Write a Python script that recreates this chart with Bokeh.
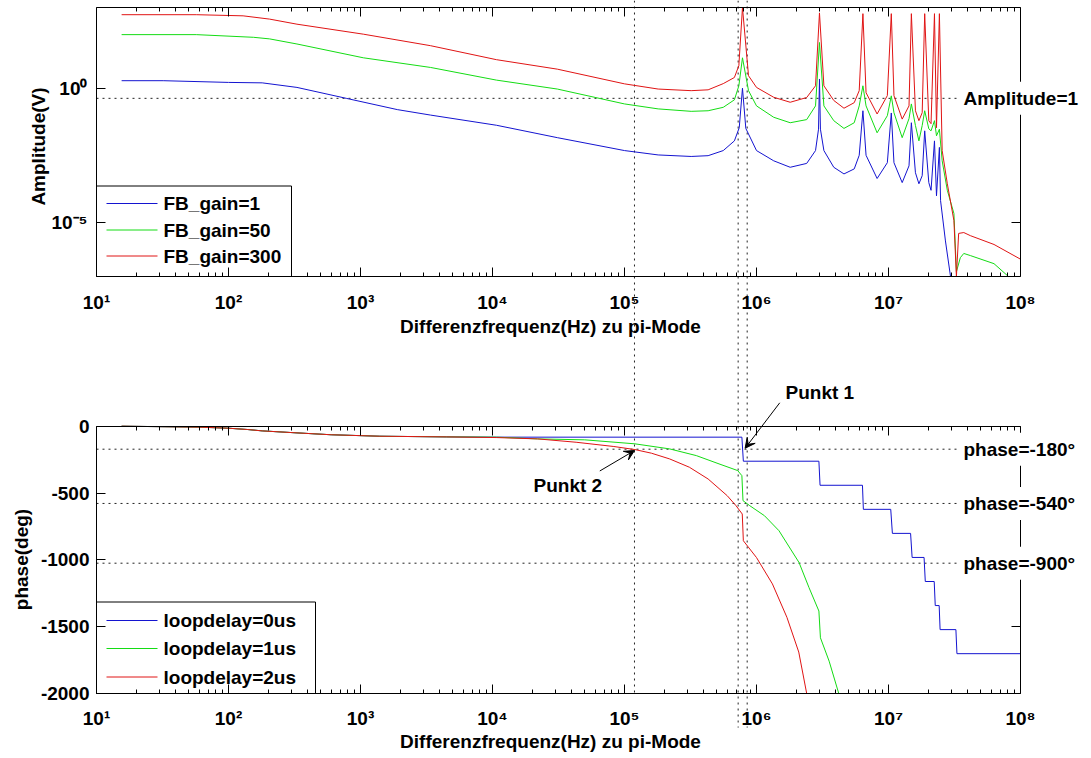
from bokeh.plotting import figure
from bokeh.models import (Label, Arrow, VeeHead, FixedTicker, LogAxis, LinearAxis, Range1d, LinearScale)
from bokeh.embed import file_html
from bokeh.resources import INLINE

FONT = "Liberation Sans"

# ---------------- amplitude data (Hz, V) ----------------
freq_amp_gain1 = [15.5, 32, 100, 180, 330, 780, 1.9e3, 3.4e3, 1.07e4, 3.1e4, 1.0e5, 1.8e5, 3.2e5, 4.3e5,
                  5.6e5, 6.8e5, 7.4e5, 7.83e5, 8.3e5, 1.0e6, 1.35e6, 1.8e6, 2.4e6, 2.8e6, 2.95e6, 3.0e6,
                  3.05e6, 3.24e6, 3.85e6, 4.6e6, 5.5e6, 6.0e6, 6.4e6, 6.76e6, 8.2e6, 9.8e6, 1.05e7, 1.1e7,
                  1.27e7, 1.43e7, 1.49e7, 1.6e7, 1.7e7, 1.8e7, 1.88e7, 2.02e7, 2.1e7, 2.23e7, 2.31e7,
                  2.43e7, 2.48e7, 2.7e7, 2.95e7]
amp_gain1 = [1.9, 1.9, 1.64, 1.58, 1.07, 0.42, 0.16, 0.10, 0.042, 0.0145, 4.8e-3, 3.3e-3, 2.9e-3, 3.1e-3,
             4.8e-3, 0.011, 0.034, 1.0, 0.032, 4.8e-3, 2.0e-3, 1.15e-3, 1.6e-3, 4.8e-3, 0.03, 2.2,
             0.03, 4.8e-3, 1.15e-3, 6.5e-4, 1.0e-3, 3.2e-3, 0.145, 3.2e-3, 4.4e-4, 1.7e-3, 0.12, 1.7e-3,
             3.1e-4, 1.3e-3, 0.052, 7.2e-4, 2.8e-4, 5.6e-4, 0.026, 3.1e-4, 1.6e-4, 0.011, 1.0e-4,
             6.3e-3, 6.6e-5, 2.1e-6, 1.0e-7]

freq_amp_gain50 = [15.5, 57, 155, 205, 330, 1.05e3, 3.4e3, 1.07e4, 3.1e4, 1.0e5, 1.8e5, 3.2e5, 4.3e5,
                   5.6e5, 6.8e5, 7.35e5, 7.83e5, 8.7e5, 1.0e6, 1.35e6, 1.8e6, 2.4e6, 2.8e6, 3.0e6,
                   3.24e6, 3.85e6, 4.6e6, 5.5e6, 6.0e6, 6.4e6, 6.76e6, 8.2e6, 9.8e6, 1.05e7, 1.1e7,
                   1.27e7, 1.43e7, 1.49e7, 1.6e7, 1.7e7, 1.8e7, 1.88e7, 2.02e7, 2.1e7, 2.23e7, 2.31e7,
                   2.43e7, 2.55e7, 2.79e7, 3.13e7, 3.27e7, 3.5e7, 3.72e7, 4.17e7, 6.3e7, 8.1e7]
amp_gain50 = [98, 98, 78, 68, 44, 13.5, 5.9, 2.0, 0.93, 0.26, 0.17, 0.138, 0.145, 0.195, 0.37, 1.23,
              13.5, 0.81, 0.22, 0.083, 0.052, 0.068, 0.22, 50, 0.22, 0.062, 0.032, 0.052, 0.22, 1.23,
              0.22, 0.022, 0.095, 0.52, 0.123, 0.0145, 0.074, 0.26, 0.041, 0.011, 0.041, 0.145, 0.031,
              0.026, 0.062, 0.017, 0.03, 2.0e-3, 1.6e-4, 2.2e-5, 1.5e-7, 5.0e-7, 7.2e-7, 6.0e-7, 3.0e-7,
              1.0e-7]

freq_amp_gain300 = [15.5, 57, 129, 205, 330, 1.05e3, 3.4e3, 1.07e4, 3.1e4, 1.0e5, 1.8e5, 3.2e5, 4.3e5,
                    5.6e5, 6.8e5, 7.35e5, 7.83e5, 8.7e5, 1.0e6, 1.35e6, 1.8e6, 2.4e6, 2.8e6, 3.0e6,
                    3.24e6, 3.85e6, 4.6e6, 5.5e6, 6.0e6, 6.4e6, 6.76e6, 8.2e6, 9.8e6, 1.05e7, 1.1e7,
                    1.27e7, 1.43e7, 1.49e7, 1.6e7, 1.7e7, 1.8e7, 1.88e7, 2.02e7, 2.1e7, 2.23e7, 2.31e7,
                    2.43e7, 2.55e7, 2.79e7, 3.13e7, 3.27e7, 3.4e7, 3.72e7, 4.17e7, 6.3e7, 1.0e8]
amp_gain300 = [540, 540, 490, 370, 240, 102, 38, 11.5, 5.1, 1.45, 0.93, 0.81, 0.87, 1.48, 2.5, 6.9,
               1000, 2.9, 1.07, 0.46, 0.30, 0.45, 1.23, 630, 1.23, 0.35, 0.18, 0.29, 0.81, 590, 0.68,
               0.11, 0.53, 590, 0.53, 0.071, 0.22, 590, 0.145, 0.062, 0.123, 590, 0.062, 0.048, 590,
               0.034, 590, 4.8e-3, 2.8e-4, 1.2e-5, 1.0e-7, 4.0e-6, 4.3e-6, 3.3e-6, 1.55e-6, 4.4e-7]

# ---------------- phase data (Hz, deg) ----------------
freq_ph_0us = [15.5, 60, 100, 140, 180, 330, 600, 1.4e3, 4.5e3, 1.07e4, 7.75e5, 7.95e5, 2.97e6, 3.03e6,
               6.35e6, 6.45e6, 1.04e7, 1.07e7, 1.47e7, 1.51e7, 1.86e7, 1.9e7, 2.22e7, 2.26e7, 2.42e7,
               2.46e7, 3.24e7, 3.3e7, 1.0e8]
phase_0us = [0, -7, -15, -25, -35, -50, -64, -75, -80, -82, -82, -262, -262, -442, -442, -622, -622,
             -802, -802, -982, -982, -1162, -1162, -1342, -1342, -1522, -1522, -1702, -1702]

freq_ph_1us = [15.5, 60, 100, 140, 180, 330, 600, 1.4e3, 4.5e3, 1.07e4, 2.2e4, 5.0e4, 1.2e5, 2.2e5,
               3.5e5, 5.2e5, 7.2e5, 7.75e5, 7.9e5, 8.9e5, 1.15e6, 1.48e6, 2.1e6, 2.5e6, 2.97e6, 3.05e6,
               3.55e6, 4.2e6]
phase_1us = [0, -7, -15, -25, -35, -50, -64, -75, -80, -82, -95, -102, -132, -170, -220, -282, -332,
             -370, -557, -595, -670, -782, -1020, -1208, -1383, -1583, -1758, -2000]

freq_ph_2us = [15.5, 60, 100, 140, 180, 330, 600, 1.4e3, 4.5e3, 1.07e4, 2.2e4, 4.3e4, 8.3e4, 1.2e5,
               1.6e5, 2.2e5, 3.1e5, 4.3e5, 6.0e5, 7.0e5, 7.8e5, 7.95e5, 1.0e6, 1.32e6, 1.7e6, 2.09e6,
               2.4e6]
phase_2us = [0, -7, -15, -25, -35, -50, -64, -75, -80, -85, -95, -120, -152, -175, -202, -245, -307,
             -395, -520, -595, -657, -857, -983, -1180, -1430, -1690, -2000]

# ---------------- axes / annotations ----------------
x_decades = [1e1, 1e2, 1e3, 1e4, 1e5, 1e6, 1e7, 1e8]
x_decade_labels = ["10\u00b9", "10\u00b2", "10\u00b3", "10\u2074", "10\u2075", "10\u2076", "10\u2077", "10\u2078"]
x_minor = [m * d for d in x_decades[:-1] for m in range(2, 10)]
amp_limits = (1e-7, 1e3)
amp_ticks = [1e-5, 1e0]
amp_tick_labels = ["10\u207b\u2075", "10\u2070"]
phase_limits = (-2000, 0)
phase_ticks = [-2000, -1500, -1000, -500, 0]
phase_tick_labels = ["-2000", "-1500", "-1000", "-500", "0"]

amp_series = ["FB_gain=1", "FB_gain=50", "FB_gain=300"]
phase_series = ["loopdelay=0us", "loopdelay=1us", "loopdelay=2us"]

marker_freqs = [1.19e5, 7.26e5, 8.5e5]          # vertical dotted lines
marker_ends = [-2000, -2255, -2255]              # lower end (phase units)
amp_ref_level = 0.42                              # "Amplitude=1" dotted line
phase_ref_levels = [-172, -578, -1025]            # dotted phase lines
phase_ref_texts = ["phase=-180\u00b0", "phase=-540\u00b0", "phase=-900\u00b0"]
punkt1_tip, punkt1_tail = (8.2e5, -165), (1.5e6, 175)
punkt2_tip, punkt2_tail = (1.19e5, -182), (6.5e4, -335)

BLUE, GREEN, RED = "#1414d0", "#14dc14", "#e01414"
colors = [BLUE, GREEN, RED]

# ---------------- page geometry (pixels) ----------------
W, H = 1091, 758
X_LEFT_PX, X_RIGHT_PX = 96, 1020           # positions of 10^1 and 10^8
AMP_TOP_PX, AMP_BOT_PX = 7, 276            # positions of 1e3 and 1e-7
PH_TOP_PX, PH_BOT_PX = 425.7, 693          # positions of 0 and -2000

xppd = (X_RIGHT_PX - X_LEFT_PX) / 7.0
yppd = (AMP_BOT_PX - AMP_TOP_PX) / 10.0
pppd = (PH_BOT_PX - PH_TOP_PX) / 2000.0


def x_at(px):
    return 10 ** (1 + (px - X_LEFT_PX) / xppd)


def amp_at(py):
    return 10 ** (3 - (py - AMP_TOP_PX) / yppd)


def ph_at(py):
    return -(py - PH_TOP_PX) / pppd


x_range = Range1d(x_at(0), x_at(W))
amp_range = Range1d(amp_at(H), amp_at(0))
phase_range = Range1d(ph_at(H), ph_at(0))

p = figure(width=W, height=H, x_axis_type="log", y_axis_type="log", x_range=x_range, y_range=amp_range,
           x_axis_location=None, y_axis_location=None, title=None,
           extra_y_ranges={"phase": phase_range}, extra_y_scales={"phase": LinearScale()},
           output_backend="svg", toolbar_location=None, min_border=0,
           min_border_left=0, min_border_right=0, min_border_top=0, min_border_bottom=0)
p.outline_line_color = None
p.background_fill_color = "white"
p.border_fill_color = "white"
for g in p.grid:
    g.visible = False


def make_axis(cls, side, loc, bounds, ticks, minor, labels, show, yname="default", standoff=8):
    ax = cls(fixed_location=loc, bounds=bounds, y_range_name=yname)
    ax.ticker = FixedTicker(ticks=ticks, minor_ticks=minor)
    ax.axis_line_color = "black"
    ax.major_tick_line_color = "black"
    ax.minor_tick_line_color = "black"
    ax.major_tick_in = 9
    ax.major_tick_out = 0
    ax.minor_tick_in = 4
    ax.minor_tick_out = 0
    ax.major_label_overrides = dict(zip(ticks, labels if show else [""] * len(ticks)))
    if show:
        ax.major_label_text_font = FONT
        ax.major_label_text_font_size = "19px"
        ax.major_label_text_font_style = "bold"
        ax.major_label_text_color = "black"
        ax.major_label_standoff = standoff
    else:
        ax.major_label_text_font_size = "1px"
        ax.major_label_text_alpha = 0
        ax.major_label_standoff = 0
    p.add_layout(ax, side)
    return ax


# amplitude box
make_axis(LogAxis, "below", amp_limits[0], (1e1, 1e8), x_decades, x_minor, x_decade_labels, True, standoff=15)
make_axis(LogAxis, "above", amp_limits[1], (1e1, 1e8), x_decades, x_minor, x_decade_labels, False)
make_axis(LogAxis, "left", 1e1, amp_limits, amp_ticks, [], amp_tick_labels, True, standoff=9)
make_axis(LogAxis, "right", 1e8, amp_limits, amp_ticks, [], amp_tick_labels, False)
# phase box
make_axis(LogAxis, "below", phase_limits[0], (1e1, 1e8), x_decades, x_minor, x_decade_labels, True,
          yname="phase", standoff=14)
make_axis(LogAxis, "above", phase_limits[1], (1e1, 1e8), x_decades, x_minor, x_decade_labels, False,
          yname="phase")
make_axis(LinearAxis, "left", 1e1, phase_limits, phase_ticks, [], phase_tick_labels, True, yname="phase",
          standoff=7)
make_axis(LinearAxis, "right", 1e8, phase_limits, phase_ticks, [], phase_tick_labels, False, yname="phase")

DOT = dict(line_color="#222222", line_dash="2 4", line_width=1)
# dotted reference lines
p.segment(x0=[1e1], y0=[amp_ref_level], x1=[1e8], y1=[amp_ref_level], **DOT)
p.segment(x0=[1e1] * 3, y0=phase_ref_levels, x1=[1e8] * 3, y1=phase_ref_levels, y_range_name="phase", **DOT)
p.segment(x0=marker_freqs, y0=[phase_range.end] * 3, x1=marker_freqs, y1=marker_ends, y_range_name="phase", **DOT)

# curves
amp_curves = [(freq_amp_gain1, amp_gain1), (freq_amp_gain50, amp_gain50), (freq_amp_gain300, amp_gain300)]
phase_curves = [(freq_ph_0us, phase_0us), (freq_ph_1us, phase_1us), (freq_ph_2us, phase_2us)]
for (fx, fy), c in zip(amp_curves, colors):
    p.line(fx, fy, line_color=c, line_width=1)
for (fx, fy), c in zip(phase_curves, colors):
    p.line(fx, fy, line_color=c, line_width=1, y_range_name="phase")

TXT = dict(text_font=FONT, text_font_size="19px", text_font_style="bold", text_color="black")


# legends: boxed key with coloured swatches (drawn with the plot's own scales)
def key_box(labels, box_px, rows_px, to_y, yname):
    left, right, top, bottom = box_px
    p.quad(left=[x_at(left)], right=[x_at(right)], top=[to_y(top)], bottom=[to_y(bottom)],
           fill_color="white", line_color="black", line_width=1, y_range_name=yname)
    ys = [to_y(r) for r in rows_px]
    p.segment(x0=[x_at(left + 10)] * 3, x1=[x_at(left + 61)] * 3, y0=ys, y1=ys,
              line_color=colors, line_width=1, y_range_name=yname)
    for lab, r in zip(labels, rows_px):
        p.add_layout(Label(x=left + 67, y=H - r, x_units="screen", y_units="screen", text=lab,
                           text_baseline="middle", **TXT))


key_box(amp_series, (X_LEFT_PX, 291, 185.5, AMP_BOT_PX), [203, 229.5, 255.5], amp_at, "default")
key_box(phase_series, (X_LEFT_PX, 315, 601.5, PH_BOT_PX), [620, 648, 676.5], ph_at, "phase")

# reference-line labels (white boxes over the right border)
p.add_layout(Label(x=957, x_units="screen", y=amp_ref_level, text="Amplitude=1", text_baseline="middle",
                   background_fill_color="white", padding=6, **TXT))
for lvl, txt in zip(phase_ref_levels, phase_ref_texts):
    p.add_layout(Label(x=957, x_units="screen", y=lvl, y_range_name="phase", text=txt,
                       text_baseline="middle", background_fill_color="white", padding=6, **TXT))

# axis titles
XTITLE = "Differenzfrequenz(Hz) zu pi-Mode"
p.add_layout(Label(x=550, y=H - 326, x_units="screen", y_units="screen", text=XTITLE,
                   text_align="center", text_baseline="middle", **TXT))
p.add_layout(Label(x=550, y=H - 740.5, x_units="screen", y_units="screen", text=XTITLE,
                   text_align="center", text_baseline="middle", **TXT))
p.add_layout(Label(x=38, y=H - 146, x_units="screen", y_units="screen", text="Amplitude(V)", angle=1.5708,
                   text_align="center", text_baseline="middle", **TXT))
p.add_layout(Label(x=21, y=H - 559, x_units="screen", y_units="screen", text="phase(deg)", angle=1.5708,
                   text_align="center", text_baseline="middle", **TXT))

# Punkt annotations
HEAD = dict(size=10, fill_color="black", line_color="black")
p.add_layout(Arrow(end=VeeHead(**HEAD), x_start=punkt1_tail[0], y_start=punkt1_tail[1],
                   x_end=punkt1_tip[0], y_end=punkt1_tip[1], y_range_name="phase",
                   line_color="black", line_width=1))
p.add_layout(Arrow(end=VeeHead(**HEAD), x_start=punkt2_tail[0], y_start=punkt2_tail[1],
                   x_end=punkt2_tip[0], y_end=punkt2_tip[1], y_range_name="phase",
                   line_color="black", line_width=1))
p.add_layout(Label(x=785, y=H - 391.5, x_units="screen", y_units="screen", text="Punkt 1",
                   text_baseline="middle", **TXT))
p.add_layout(Label(x=533, y=H - 485, x_units="screen", y_units="screen", text="Punkt 2",
                   text_baseline="middle", **TXT))

open("out.html", "w").write(file_html(p, INLINE))
